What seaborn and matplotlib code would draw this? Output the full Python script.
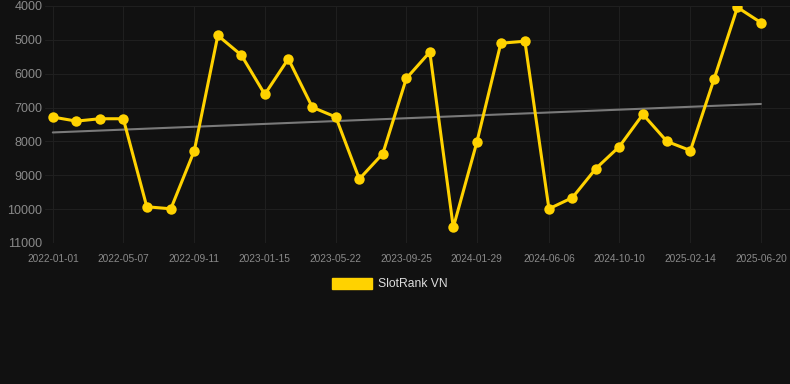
import numpy as np
import pandas as pd
import seaborn as sns
import matplotlib.pyplot as plt
import matplotlib.dates as mdates
from matplotlib.patches import Patch

# data
dates = ["2022-01-01", "2022-02-12", "2022-03-26", "2022-05-07", "2022-06-18",
         "2022-07-31", "2022-09-11", "2022-10-23", "2022-12-04", "2023-01-15",
         "2023-02-26", "2023-04-10", "2023-05-22", "2023-07-03", "2023-08-14",
         "2023-09-25", "2023-11-06", "2023-12-18", "2024-01-29", "2024-03-12",
         "2024-04-24", "2024-06-06", "2024-07-18", "2024-08-29", "2024-10-10",
         "2024-11-21", "2025-01-03", "2025-02-14", "2025-03-28", "2025-05-09",
         "2025-06-20"]
ranks = [7280, 7400, 7330, 7330, 9930, 9990, 8270, 4870, 5450, 6610,
         5560, 6990, 7280, 9110, 8360, 6140, 5360, 10540, 8030, 5100,
         5040, 9990, 9660, 8800, 8150, 7200, 8000, 8270, 6170, 4040,
         4490]
tick_dates = ["2022-01-01", "2022-05-07", "2022-09-11", "2023-01-15", "2023-05-22",
              "2023-09-25", "2024-01-29", "2024-06-06", "2024-10-10", "2025-02-14",
              "2025-06-20"]
y_ticks = [4000, 5000, 6000, 7000, 8000, 9000, 10000, 11000]
series_name = "SlotRank VN"

df = pd.DataFrame({"date": pd.to_datetime(dates), "rank": ranks})

bg = "#111111"
gold = "#FFD200"

sns.set_theme(style="dark")
plt.rcParams['font.family'] = ['Liberation Sans', 'DejaVu Sans']

fig = plt.figure(figsize=(7.9, 3.84), dpi=100, facecolor=bg)
ax = fig.add_axes([45 / 790, 1 - 243 / 384, 745 / 790, 237 / 384])
ax.set_facecolor(bg)

# trend line
xnum = mdates.date2num(df["date"])
k, b = np.polyfit(xnum, df["rank"], 1)
ax.plot(df["date"], k * xnum + b, color="#7a7a7a", lw=1.5, zorder=2)

sns.lineplot(data=df, x="date", y="rank", ax=ax, color=gold, lw=2.2,
             marker="o", markersize=7.5, markeredgewidth=0, zorder=3)

ax.set_ylim(11000, 4000)
ax.set_yticks(y_ticks)
ax.set_xlim(pd.Timestamp("2021-12-18"), pd.Timestamp("2025-08-11"))
ax.set_xticks(pd.to_datetime(tick_dates))
ax.set_xticklabels(tick_dates)
ax.set_xlabel("")
ax.set_ylabel("")

ax.grid(True, color="#1f1f1f", lw=0.8)
for s in ax.spines.values():
    s.set_visible(False)
ax.tick_params(axis="y", colors="#8a8a8a", labelsize=9, length=0, pad=2)
ax.tick_params(axis="x", colors="#8a8a8a", labelsize=7.3, length=0, pad=8)

fig.legend(handles=[Patch(facecolor=gold, edgecolor=gold, label=series_name)],
           loc="center", bbox_to_anchor=(390 / 790, 1 - 284 / 384), frameon=False,
           fontsize=8.7, labelcolor="#dddddd", handlelength=3.3, handleheight=1.0,
           handletextpad=0.5)

fig.savefig("out.png", dpi=100, facecolor=bg)
